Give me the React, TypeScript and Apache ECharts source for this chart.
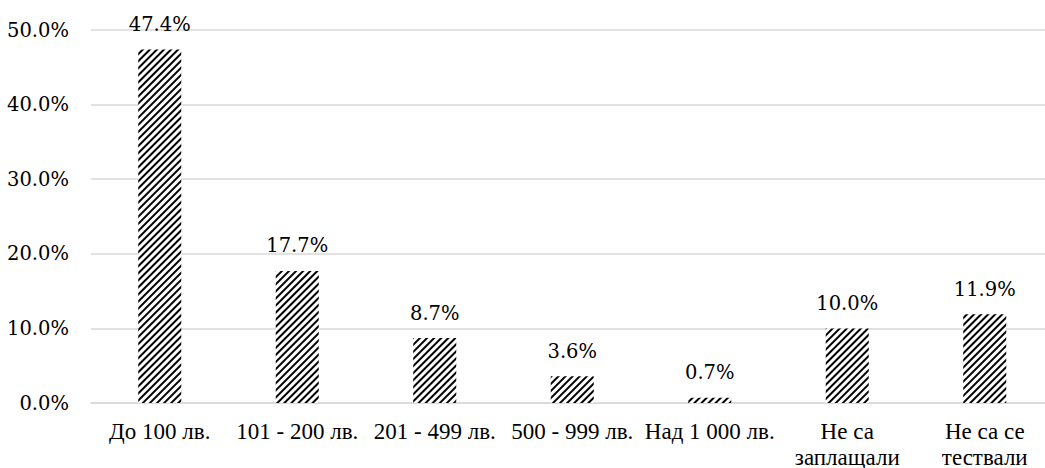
import React, { useEffect, useRef } from "react";
import * as echarts from "echarts";

const categories = [
  "До 100 лв.",
  "101 - 200 лв.",
  "201 - 499 лв.",
  "500 - 999 лв.",
  "Над 1 000 лв.",
  "Не са\nзаплащали",
  "Не са се\nтествали",
];
const values = [47.4, 17.7, 8.7, 3.6, 0.7, 10.0, 11.9];
const yTicks = { min: 0, max: 50, interval: 10 };

const FONT = "Times New Roman";
const NUM_FONT = "DejaVu Serif";
const FS = 23;
const NUM_FS = 19.5;

export default function App() {
  const ref = useRef<HTMLDivElement>(null);
  useEffect(() => {
    if (!ref.current) return;
    const chart = echarts.init(ref.current, undefined, { renderer: "svg" });
    chart.setOption({
      animation: false,
      backgroundColor: "#fff",
      textStyle: { fontFamily: FONT },
      grid: {
        left: 91,
        top: 30,
        width: 962.5,
        height: 373,
        containLabel: false,
        outerBoundsMode: "none",
      },
      xAxis: {
        type: "category",
        data: categories,
        axisLine: { lineStyle: { color: "#d9d9d9", width: 1.5 } },
        axisTick: { show: false },
        axisLabel: {
          color: "#000",
          fontFamily: FONT,
          fontSize: FS,
          margin: 15,
          lineHeight: 26,
          interval: 0,
        },
      },
      yAxis: {
        type: "value",
        min: yTicks.min,
        max: yTicks.max,
        interval: yTicks.interval,
        axisLine: { show: false },
        axisTick: { show: false },
        splitLine: { lineStyle: { color: "#d9d9d9", width: 1.5 } },
        axisLabel: {
          color: "#000",
          fontFamily: NUM_FONT,
          fontSize: NUM_FS,
          margin: 22,
          formatter: (v: number) => v.toFixed(1) + "%",
        },
      },
      series: [
        {
          type: "bar",
          data: values,
          barWidth: 43,
          itemStyle: {
            color: "#fff",
            decal: {
              symbol: "rect",
              symbolSize: 1,
              color: "#000",
              backgroundColor: "#fff",
              dashArrayX: [1, 0],
              dashArrayY: [2, 3],
              rotation: -Math.PI / 4,
            },
          },
          label: {
            show: true,
            position: "top",
            distance: 15,
            color: "#000",
            fontFamily: NUM_FONT,
            fontSize: NUM_FS,
            formatter: (p: any) => p.value.toFixed(1) + "%",
          },
        },
      ],
    });
    return () => chart.dispose();
  }, []);
  return (
    <div
      ref={ref}
      style={{ position: "fixed", left: 0, top: 0, width: 1045, height: 468 }}
    />
  );
}
